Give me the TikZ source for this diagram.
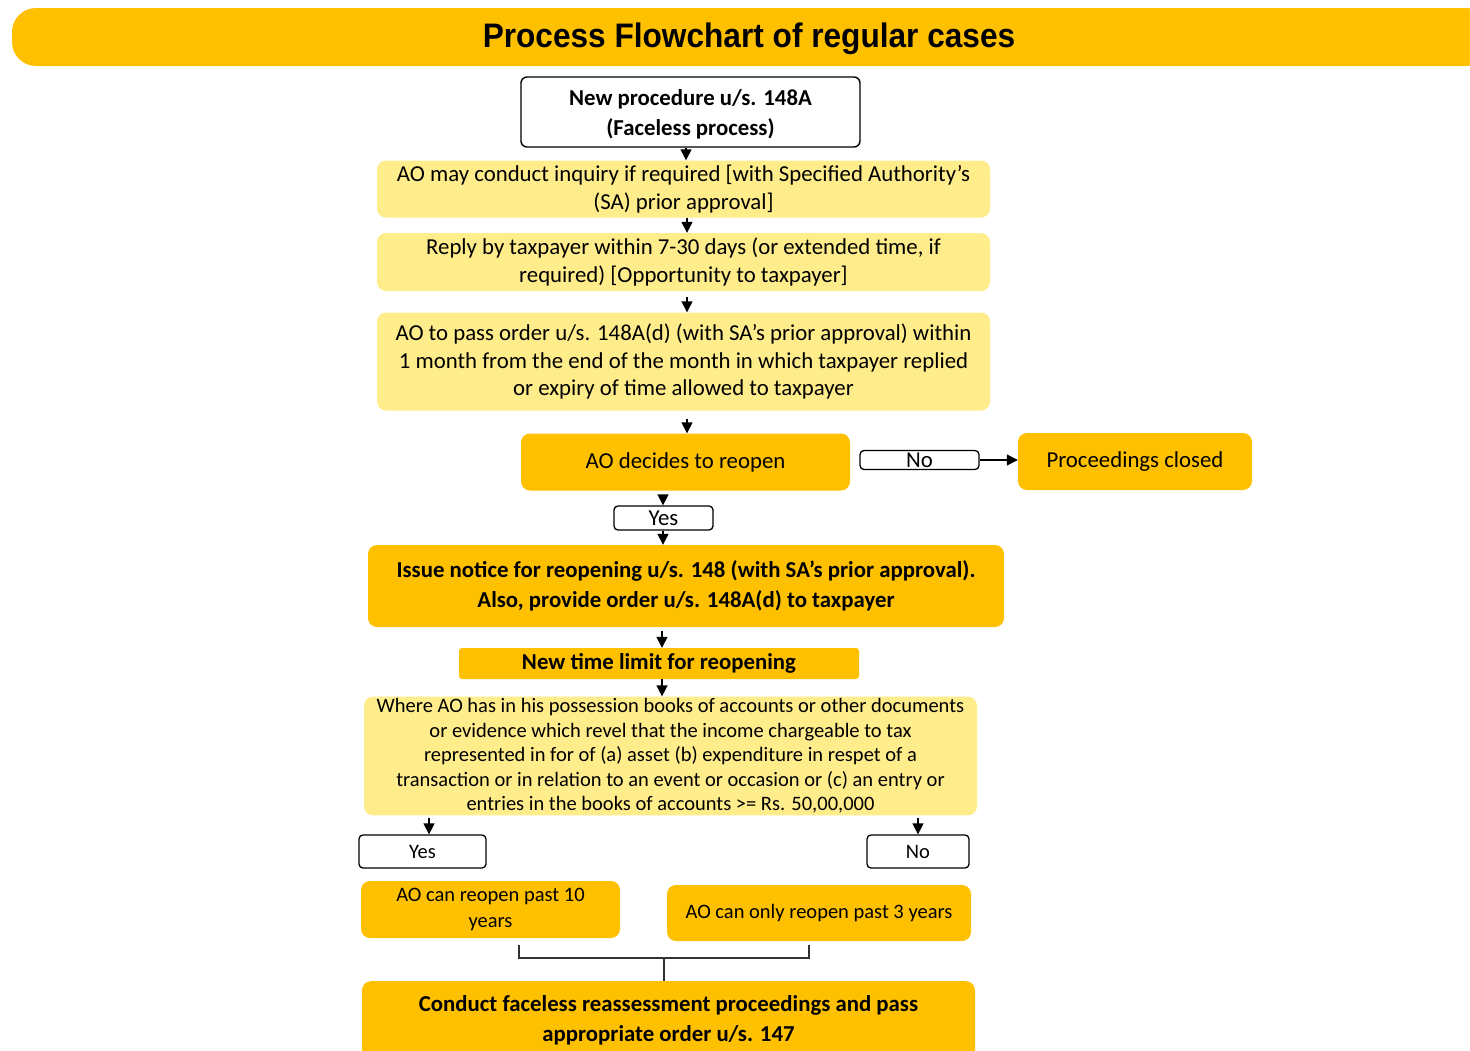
\documentclass[tikz,border=0pt]{standalone}
\usepackage{fontspec}
\setmainfont{Carlito}
\newfontfamily\titlefont[FakeStretch=0.93]{Liberation Sans}
\usetikzlibrary{arrows.meta,positioning,calc}
\definecolor{gold}{HTML}{FFC000}
\definecolor{paleyel}{HTML}{FFEC8B}
\tikzset{
  base/.style={align=center, inner sep=2pt, text=black},
  whitebox/.style={base, draw=black, line width=1.4pt, fill=white, rounded corners=6pt},
  smallbox/.style={base, draw=black, line width=1.3pt, fill=white, rounded corners=4pt},
  paleblock/.style={base, fill=paleyel, rounded corners=9pt},
  goldblock/.style={base, fill=gold, rounded corners=9pt},
  txtA/.style={font=\fontsize{22.8}{28}\selectfont},
  txtB/.style={font=\bfseries\fontsize{22.8}{30}\selectfont},
  txtC/.style={font=\fontsize{20.5}{24.5}\selectfont},
  arr/.style={line width=1.4pt, -{Triangle[length=11pt,width=11pt]}},
  plain/.style={line width=1.4pt},
}
\begin{document}
\begin{tikzpicture}[x=1pt,y=-1pt]
\useasboundingbox (0,0) rectangle (1470,1050);
% title bar
\node[base, fill=gold, rounded corners=24pt, minimum width=1478pt, minimum height=58pt] (title) at (751,37) {};
\node[base, font=\titlefont\bfseries\fontsize{34}{40}\selectfont] (titletext) at (749,39) {Process Flowchart of regular cases};
% boxes
\node[whitebox, minimum width=339pt, minimum height=70pt] (b1) at (690.5,112) {};
\node[base, txtB] (b1t) at (690.5,114) {New procedure u/s. 148A\\(Faceless process)};
\node[paleblock, txtA, minimum width=613pt, minimum height=57pt] (b2) at (683.5,189)
  {AO may conduct inquiry if required [with Specified Authority’s\\(SA) prior approval]};
\node[paleblock, txtA, minimum width=613pt, minimum height=58pt] (b3) at (683.5,262)
  {Reply by taxpayer within 7-30 days (or extended time, if\\required) [Opportunity to taxpayer]};
\node[paleblock, font=\fontsize{22.8}{27.5}\selectfont, minimum width=613pt, minimum height=98pt] (b4) at (683.5,361.5)
  {AO to pass order u/s. 148A(d) (with SA’s prior approval) within\\1 month from the end of the month in which taxpayer replied\\or expiry of time allowed to taxpayer};
\node[goldblock, txtA, minimum width=329pt, minimum height=57pt] (b5) at (685.5,462)
  {AO decides to reopen};
\node[smallbox, txtA, minimum width=119pt, minimum height=19pt, inner sep=0pt] (no1) at (919.5,460) {No};
\node[goldblock, txtA, minimum width=234pt, minimum height=57pt] (closed) at (1135,461.5)
  {Proceedings closed};
\node[smallbox, txtA, minimum width=99pt, minimum height=24pt, inner sep=0pt] (yes1) at (663.5,518) {Yes};
\node[goldblock, txtB, minimum width=636pt, minimum height=82pt] (issue) at (686,586)
  {Issue notice for reopening u/s. 148 (with SA’s prior approval).\\Also, provide order u/s. 148A(d) to taxpayer};
\node[goldblock, txtB, rounded corners=3pt, minimum width=400pt, minimum height=31pt] (newtime) at (659,663.5)
  {New time limit for reopening};
\node[paleblock, txtC, minimum width=613pt, minimum height=110pt] (where) at (670.5,756)
  {Where AO has in his possession books of accounts or other documents\\
   or evidence which revel that the income chargeable to tax\\
   represented in for of (a) asset (b) expenditure in respet of a\\
   transaction or in relation to an event or occasion or (c) an entry or\\
   entries in the books of accounts >= Rs. 50,00,000};
\node[smallbox, txtC, minimum width=127pt, minimum height=33pt] (yes2) at (422.5,851.5) {Yes};
\node[smallbox, txtC, minimum width=102pt, minimum height=33pt] (no2) at (918,851.5) {No};
\node[goldblock, font=\fontsize{20.5}{26}\selectfont, minimum width=259pt, minimum height=57pt] (ao10) at (490.5,909.5)
  {AO can reopen past 10\\years};
\node[goldblock, txtC, minimum width=304pt, minimum height=56pt] (ao3) at (819,913)
  {AO can only reopen past 3 years};
\node[goldblock, txtB, minimum width=613pt, minimum height=78pt, anchor=north] (final) at (668.5,981)
  {Conduct faceless reassessment proceedings and pass\\appropriate order u/s. 147};
% connectors
\draw[arr] (686,0 |- b1.south) -- (686,0 |- b2.north);
\draw[arr] (687,0 |- b2.south) -- (687,0 |- b3.north);
\draw[arr] (687,0 |- b3.south) ++(0,6) -- (687,0 |- b4.north);
\draw[arr] (687,0 |- b4.south) ++(0,8) -- (687,0 |- b5.north);
\draw[arr] (663,0 |- b5.south) ++(0,5) -- (663,0 |- yes1.north);
\draw[arr] (yes1.south -| 663,0) -- (663,0 |- issue.north);
\draw[arr] (no1.east) -- (no1.east -| closed.west);
\draw[arr] (662,0 |- issue.south) ++(0,4) -- (662,0 |- newtime.north);
\draw[arr] (662,0 |- newtime.south) -- (662,0 |- where.north);
\draw[arr] (429,0 |- where.south) ++(0,2) -- (429,0 |- yes2.north);
\draw[arr] (no2.north |- where.south) ++(0,2) -- (no2.north);
% bracket
\coordinate (bl) at (519,945);
\coordinate (br) at (809,945);
\coordinate (bm) at (664,958);
\draw[plain, line width=1.2pt, draw=black!80] (bl) -- (519,958) -- (809,958) -- (br);
\draw[plain, line width=1.2pt, draw=black!80] (bm) -- (final.north -| bm);
\end{tikzpicture}
\end{document}
